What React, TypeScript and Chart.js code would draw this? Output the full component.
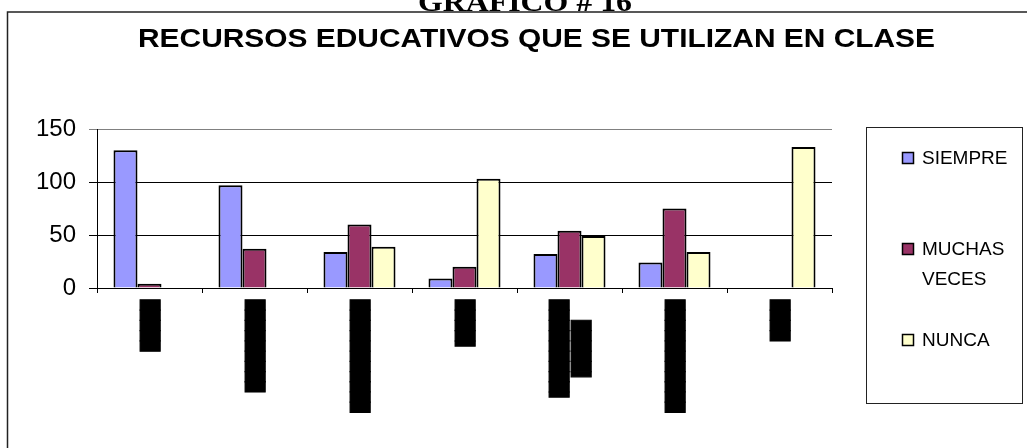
import React, { useEffect, useRef } from "react";
import { Chart, registerables } from "chart.js";

Chart.register(...registerables);

const pageHeading = "GRAFICO # 16";
const chartTitle = "RECURSOS EDUCATIVOS QUE SE UTILIZAN EN CLASE";
// category labels are illegible (blacked out) in the reference
const categories: (string | string[])[] = [
  "█████",
  "█████████",
  "███████████",
  "▐████",
  ["▐█████████", "▐█████  "],
  "███████████",
  "████",
];
const seriesNames = ["SIEMPRE", "MUCHAS VECES", "NUNCA"];
const legendLines = [["SIEMPRE"], ["MUCHAS", "VECES"], ["NUNCA"]];
const siempre = [130, 97, 34, 9, 32, 24, 0];
const muchasVeces = [4, 37, 60, 20, 54, 75, 0];
const nunca = [0, 0, 39, 103, 49, 34, 133];
const yTicks = [0, 50, 100, 150];
const seriesColors = ["#9999FF", "#993366", "#FFFFCC"];

const W = 1027;
const H = 448;
const LABEL_LH = 22;

const centerMultiLinePlugin = {
  id: "centerMultiLine",
  beforeDraw(chart: any) {
    const sx = chart.scales.x;
    if (!sx || !sx.getLabelItems) return;
    const items = sx.getLabelItems();
    items.forEach((it: any) => {
      if (it._shifted) return;
      let dx = 2;
      if (Array.isArray(it.label)) dx -= ((it.label.length - 1) * LABEL_LH) / 2;
      it.options.translation[0] += dx;
      it._shifted = true;
    });
  },
};

const decorPlugin = {
  id: "decor",
  afterDraw(chart: any) {
    const ctx = chart.ctx as CanvasRenderingContext2D;
    ctx.save();
    // page heading (cut by the top edge)
    ctx.fillStyle = "#000";
    ctx.font = "bold 28px 'Liberation Serif'";
    ctx.textBaseline = "alphabetic";
    ctx.textAlign = "left";
    let m = ctx.measureText(pageHeading).width;
    ctx.save();
    ctx.translate(418, 11);
    ctx.scale(214 / m, 1);
    ctx.fillText(pageHeading, 0, 0);
    ctx.restore();

    // outer border
    ctx.strokeStyle = "#222";
    ctx.lineWidth = 1.5;
    ctx.beginPath();
    ctx.moveTo(7.5, H);
    ctx.lineTo(7.5, 12);
    ctx.lineTo(W, 12);
    ctx.stroke();

    // chart title
    ctx.font = "bold 26px 'Liberation Sans'";
    m = ctx.measureText(chartTitle).width;
    ctx.save();
    ctx.translate(138, 47);
    ctx.scale(797 / m, 1);
    ctx.fillText(chartTitle, 0, 0);
    ctx.restore();

    // legend box
    ctx.strokeStyle = "#222";
    ctx.lineWidth = 1;
    ctx.strokeRect(866.5, 127.5, 156, 276);
    const itemY = [158, 249, 340];
    ctx.font = "19px 'Liberation Sans'";
    ctx.textBaseline = "middle";
    seriesNames.forEach((_, i) => {
      const y = itemY[i];
      ctx.fillStyle = seriesColors[i];
      ctx.fillRect(902, y - 6, 12, 12);
      ctx.strokeStyle = "#000";
      ctx.lineWidth = 1.5;
      ctx.strokeRect(902.5, y - 5.5, 11, 11);
      ctx.fillStyle = "#000";
      legendLines[i].forEach((line, j) => {
        ctx.fillText(line, 922, y + j * 30 + 1);
      });
    });
    ctx.restore();
  },
};

export default function App() {
  const ref = useRef<HTMLCanvasElement>(null);
  useEffect(() => {
    document.body.style.margin = "0";
    document.body.style.overflow = "hidden";
    const data = [siempre, muchasVeces, nunca];
    const chart = new Chart(ref.current!, {
      type: "bar",
      data: {
        labels: categories,
        datasets: seriesNames.map((name, i) => ({
          label: name,
          data: data[i],
          backgroundColor: seriesColors[i],
          borderColor: "#000",
          borderWidth: 2,
          categoryPercentage: 0.686,
          barPercentage: 1,
        })),
      },
      options: {
        animation: false,
        responsive: false,
        devicePixelRatio: 1,
        layout: { padding: { top: 129, right: 195, left: 0, bottom: 0 } },
        plugins: {
          legend: { display: false },
          title: { display: false },
          tooltip: { enabled: false },
        },
        scales: {
          x: {
            grid: {
              drawOnChartArea: false,
              drawTicks: true,
              tickLength: 5,
              color: "#000",
              offset: true,
            },
            border: { color: "#000", width: 1 },
            ticks: {
              autoSkip: false,
              maxRotation: 90,
              minRotation: 90,
              padding: 7,
              color: "#000",
              textStrokeColor: "#000",
              textStrokeWidth: 1,
              font: { family: "'DejaVu Sans Mono'", size: 17, lineHeight: LABEL_LH / 17 },
            },
            afterFit: (s: any) => {
              s.height = 160;
            },
          },
          y: {
            min: 0,
            max: 150,
            afterBuildTicks: (s: any) => {
              s.ticks = yTicks.map((v) => ({ value: v }));
            },
            grid: {
              color: (c: any) => (c.tick && c.tick.value === 150 ? "#808080" : "#000"),
              tickLength: 8,
              lineWidth: 1,
            },
            border: { color: "#000", width: 1 },
            ticks: {
              padding: 13,
              color: "#000",
              font: { family: "'Liberation Sans'", size: 24 },
            },
            afterFit: (s: any) => {
              s.width = 97;
            },
          },
        },
      },
      plugins: [centerMultiLinePlugin, decorPlugin],
    });
    return () => chart.destroy();
  }, []);
  return (
    <div style={{ width: W, height: H, position: "relative", background: "#fff" }}>
      <canvas ref={ref} width={W} height={H} style={{ display: "block" }} />
    </div>
  );
}
